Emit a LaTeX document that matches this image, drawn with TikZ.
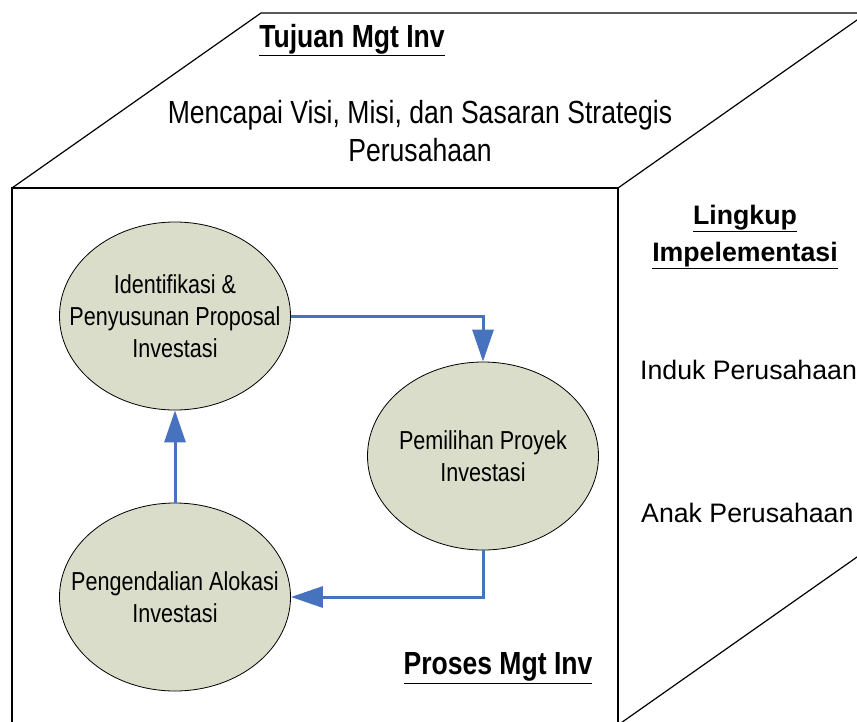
\documentclass[tikz,border=0pt]{standalone}
\usepackage{fontspec}
\setmainfont{Liberation Sans}
\newfontfamily\narrowfont[FakeStretch=0.83]{Liberation Sans}
\usetikzlibrary{shapes.geometric,arrows.meta}
\definecolor{flowblue}{RGB}{70,114,190}
\definecolor{ellfill}{RGB}{218,221,202}
\tikzset{
  boxline/.style={line width=1.2pt, black},
  proc/.style={ellipse, draw=black, line width=0.8pt, fill=ellfill, minimum width=231pt, minimum height=188pt, inner sep=0pt},
  proctext/.style={align=center, inner sep=0pt, font=\narrowfont\fontsize{26}{32}\selectfont},
  flow/.style={draw=flowblue, line width=3pt, -{Triangle[length=32pt,width=21pt]}},
  headnarrow/.style={font=\narrowfont\bfseries\fontsize{32}{38}\selectfont},
  bodynarrow/.style={font=\narrowfont\fontsize{32}{38}\selectfont, align=center},
  headwide/.style={font=\bfseries\fontsize{26.7}{37}\selectfont, align=center},
  bodywide/.style={font=\fontsize{26.7}{32}\selectfont, anchor=west, inner sep=0pt}
}
\begin{document}
\begin{tikzpicture}[x=1pt,y=-1pt]
\useasboundingbox (0,0) rectangle (857,721);
\fill[white] (0,0) rectangle (857,721);
\begin{scope}
\clip (0,0) rectangle (857,721);
% cube outline
\draw[boxline] (12,730) -- (12,188) -- (618,188) -- (618,730);
\draw[boxline] (12,188) -- (261,13) -- (867,13) -- (618,188);
\draw[boxline] (867,13) -- (867,550) -- (618,725);
\end{scope}
% texts on faces
\node[headnarrow] (tujuan) at (352,40) {\underline{Tujuan Mgt Inv}};
\node[bodynarrow] (visi) at (420,131) {Mencapai Visi, Misi, dan Sasaran Strategis\\Perusahaan};
\node[headwide] (lingkup) at (745,237) {\underline{Lingkup}\\\underline{Impelementasi}};
\node[bodywide] (induk) at (640,370) {Induk Perusahaan};
\node[bodywide] (anak) at (641,513) {Anak Perusahaan};
\node[headnarrow] (proses) at (498,668) {\underline{Proses Mgt Inv}};
% process ellipses
\node[proc] (e1) at (175,316) {};
\node[proc] (e2) at (483,456) {};
\node[proc] (e3) at (175,597) {};
\node[proctext] (t1) at (e1.center) {Identifikasi \&\\Penyusunan Proposal\\Investasi};
\node[proctext] (t2) at (e2.center) {Pemilihan Proyek\\Investasi};
\node[proctext] (t3) at (e3.center) {Pengendalian Alokasi\\Investasi};
% connectors
\draw[flow] (e1.east) -| (e2.north);
\draw[flow] (e2.south) |- (e3.east);
\draw[flow] (e3.north) -- (e1.south);
\end{tikzpicture}
\end{document}
